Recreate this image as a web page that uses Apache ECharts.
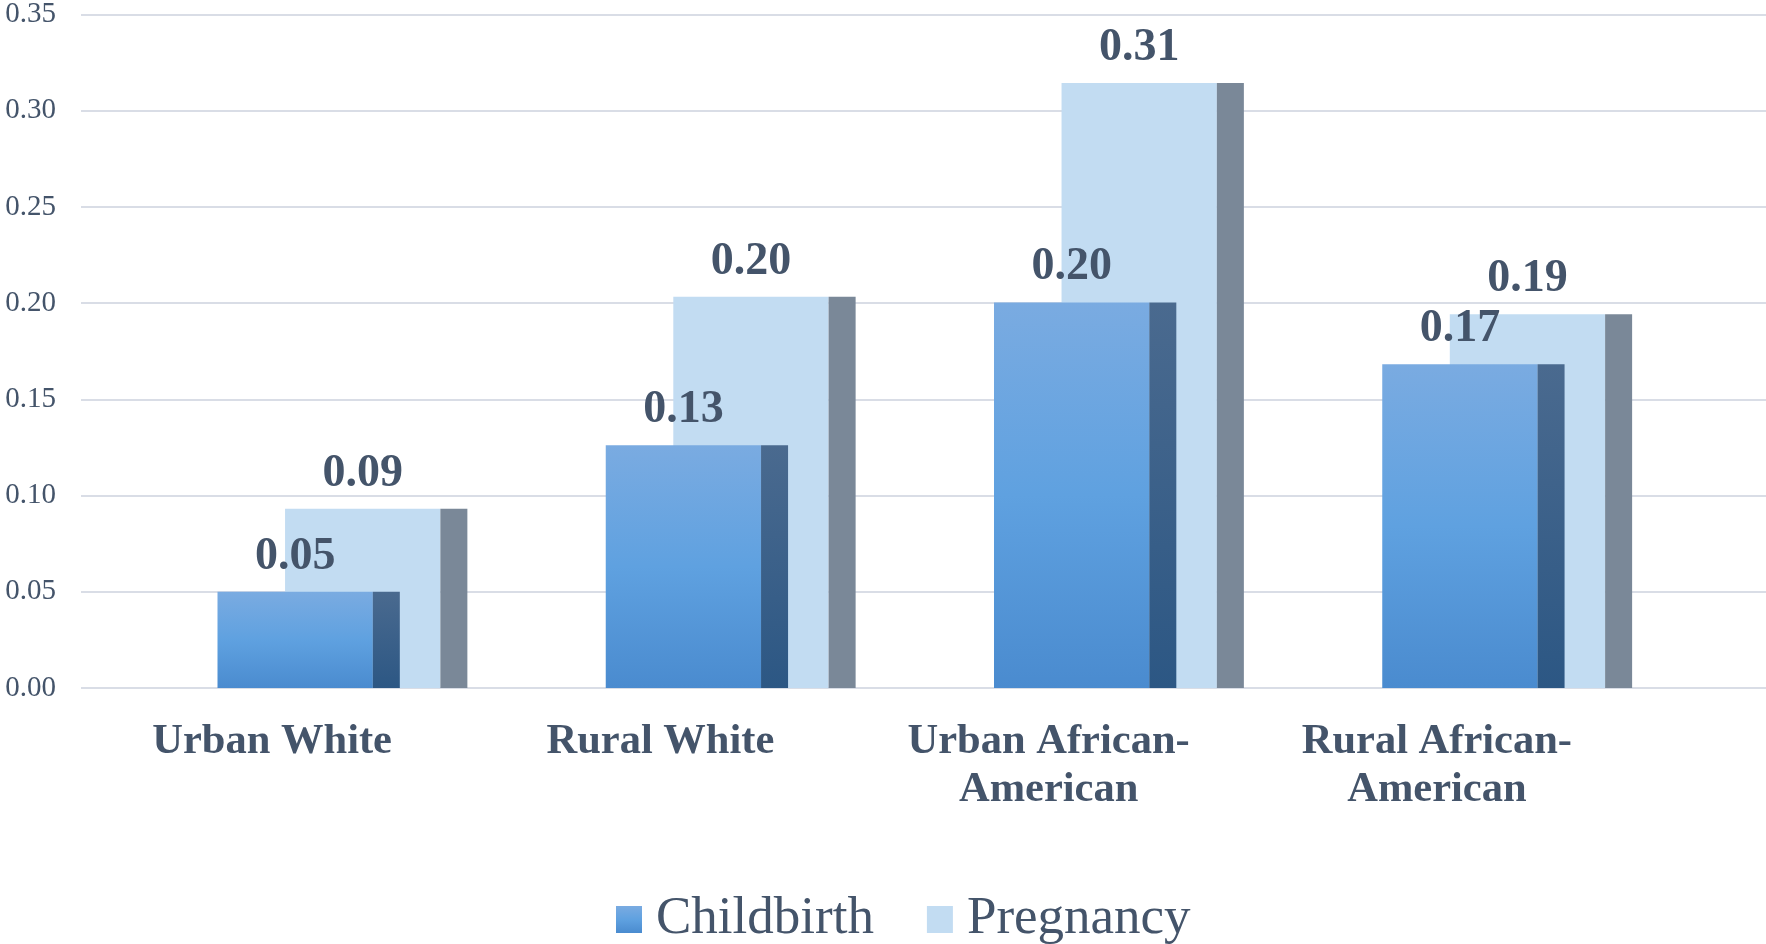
<!DOCTYPE html>
<html>
<head>
<meta charset="utf-8">
<script src="https://cdn.jsdelivr.net/npm/echarts@6/dist/echarts.min.js"></script>
<style>
html,body{margin:0;padding:0;background:#fff;}
#chart{width:1766px;height:944px;}
</style>
</head>
<body>
<div id="chart"></div>
<script>
const categories = ['Urban White', 'Rural White', 'Urban African-\nAmerican', 'Rural African-\nAmerican'];
const childbirth = [0.050, 0.126, 0.200, 0.168];
const pregnancy = [0.093, 0.203, 0.314, 0.194];
const yTicks = { min: 0, max: 0.35, interval: 0.05 };

const TEXT = '#44546a';
const SERIF = '"Liberation Serif", "Times New Roman", serif';
const FRONT = 0.40, SIDE = 0.0696;
const OFF_CHILD = -0.321, OFF_PREG = -0.147;

const childFront = {type:'linear', x:0, y:0, x2:0, y2:1, colorStops:[
  {offset:0, color:'#7aabe1'}, {offset:0.5, color:'#5fa1e0'}, {offset:1, color:'#4a8bcf'}]};
const childSide = {type:'linear', x:0, y:0, x2:0, y2:1, colorStops:[
  {offset:0, color:'#4a6a8f'}, {offset:1, color:'#2c5784'}]};
const pregFront = '#c2dcf2';
const pregSide = '#7a8898';

function makeRender(front, side, off) {
  return function (params, api) {
    const idx = api.value(0), val = api.value(1);
    const c = api.coord([idx, val]);
    const b = api.coord([idx, 0]);
    const band = api.size([1, 0])[0];
    const x0 = c[0] + band * off;
    const fw = band * FRONT, sw = band * SIDE;
    const h = b[1] - c[1];
    return {
      type: 'group',
      children: [
        {type:'rect', shape:{x:x0, y:c[1], width:fw, height:h}, style:{fill:front}},
        {type:'rect', shape:{x:x0 + fw, y:c[1], width:sw, height:h}, style:{fill:side}},
        {type:'text', x:x0 + fw / 2, y:c[1] - 12, z2:100,
          style:{text: val.toFixed(2), fill: TEXT, font: 'bold 46px ' + SERIF, align:'center', verticalAlign:'bottom'}}
      ]
    };
  };
}

const chart = echarts.init(document.getElementById('chart'));
chart.setOption({
  animation: false,
  backgroundColor: '#fff',
  grid: [
    {left: 81, right: 0, top: 13.5, bottom: 256},
    {left: 148, right: 65, top: 13.5, bottom: 256}
  ],
  xAxis: [
    {type:'category', gridIndex:0, data:categories, show:false},
    {type:'category', gridIndex:1, data:categories,
      axisLine:{show:false}, axisTick:{show:false},
      axisLabel:{interval:0, margin:30, color:TEXT, fontFamily:SERIF, fontWeight:'bold', fontSize:42.5, lineHeight:48, padding:[0,140,0,0]}}
  ],
  yAxis: [
    {type:'value', gridIndex:0, min:yTicks.min, max:yTicks.max, interval:yTicks.interval,
      axisLine:{show:false}, axisTick:{show:false},
      axisLabel:{margin:25, color:TEXT, fontFamily:SERIF, fontSize:29, formatter: v => v.toFixed(2)},
      splitLine:{lineStyle:{color:'#d9dde6', width:2}}},
    {type:'value', gridIndex:1, min:yTicks.min, max:yTicks.max, interval:yTicks.interval, show:false, splitLine:{show:false}}
  ],
  legend: {
    left: 611, top: 888, itemWidth: 26, itemHeight: 27, itemGap: 53, icon: 'rect',
    textStyle: {color: TEXT, fontFamily: SERIF, fontSize: 53, padding:[0,0,0,9]},
    data: [
      {name:'Childbirth', itemStyle:{color: childFront}},
      {name:'Pregnancy', itemStyle:{color: pregFront}}
    ]
  },
  series: [
    {name:'Pregnancy', type:'custom', xAxisIndex:1, yAxisIndex:1, z:2,
      itemStyle:{color: pregFront},
      renderItem: makeRender(pregFront, pregSide, OFF_PREG),
      encode:{x:0, y:1},
      data: pregnancy.map((v, i) => [i, v])},
    {name:'Childbirth', type:'custom', xAxisIndex:1, yAxisIndex:1, z:3,
      itemStyle:{color: '#5fa1e0'},
      renderItem: makeRender(childFront, childSide, OFF_CHILD),
      encode:{x:0, y:1},
      data: childbirth.map((v, i) => [i, v])}
  ]
});
</script>
</body>
</html>
